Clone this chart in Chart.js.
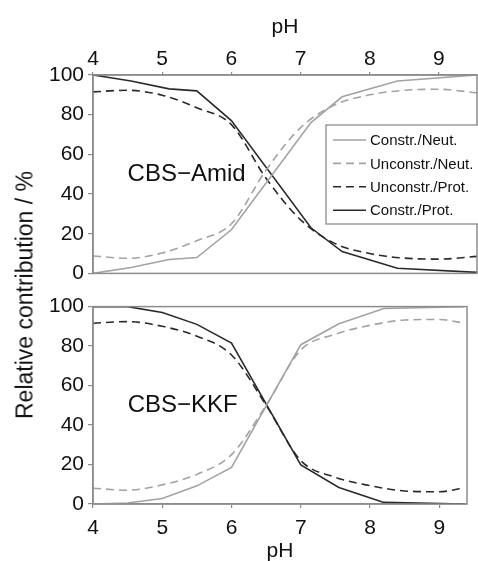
<!DOCTYPE html>
<html>
<head>
<meta charset="utf-8">
<script src="https://cdn.jsdelivr.net/npm/chart.js@4.4.1/dist/chart.umd.min.js"></script>
<style>
  html, body { margin: 0; padding: 0; background: #fff; overflow: hidden; }
  #wrap { position: relative; width: 478px; height: 561px; overflow: hidden; }
  #top { position: absolute; left: 0; top: 0; }
  #bottom { position: absolute; left: 0; top: 290px; }
  #ytitle {
    position: absolute; left: 25px; top: 295px;
    transform: translate(-50%, -50%) rotate(-90deg);
    font: 23px "Liberation Sans", Arial, sans-serif;
    white-space: nowrap; color: #111;
  }
</style>
</head>
<body>
<div id="wrap">
  <canvas id="top" width="478" height="290"></canvas>
  <canvas id="bottom" width="478" height="285"></canvas>
  <div id="ytitle">Relative contribution / %</div>
</div>
<script>
// axis ticks
const phTicks = [4, 5, 6, 7, 8, 9];
const yTicks = [0, 20, 40, 60, 80, 100];
const seriesNames = ["Constr./Neut.", "Unconstr./Neut.", "Unconstr./Prot.", "Constr./Prot."];

// CBS-Amid (top panel)
const amidPhConstr = [4.0, 4.55, 5.1, 5.5, 6.0, 7.15, 7.6, 8.4, 9.55];
const amidConstrNeut = [0, 3, 7, 8, 22, 76, 89, 97, 100];
const amidConstrProt = [100, 97, 93, 92, 77, 23, 11, 2.6, 0.5];
const amidPhFit = [4.0, 4.5, 5.0, 5.5, 6.0, 6.5, 7.0, 7.5, 8.0, 8.5, 9.0, 9.55];
const amidUnconstrNeut = [8.8, 7.6, 10.3, 16.5, 25, 52, 73.5, 85, 90, 92.3, 92.8, 91];
const amidUnconstrProt = [91.5, 92.3, 89.8, 83.5, 75, 48, 27, 15, 10, 7.7, 7.2, 8.6];

// CBS-KKF (bottom panel)
const kkfPhConstr = [4.0, 4.5, 5.0, 5.5, 6.0, 7.0, 7.55, 8.2, 9.35];
const kkfConstrNeut = [0, 0.5, 2.8, 9.2, 18.5, 80.7, 91.3, 99, 100];
const kkfConstrProt = [100, 100, 97, 91, 81.5, 19.8, 8.4, 0.8, 0];
const kkfPhFit = [4.0, 4.5, 5.0, 5.5, 6.0, 6.5, 7.0, 7.5, 8.0, 8.5, 9.0, 9.35];
const kkfUnconstrNeut = [8, 7, 9.7, 15, 25, 50, 78, 86, 90.5, 93.2, 93.5, 91.6];
const kkfUnconstrProt = [91.6, 92.4, 90, 85, 75.5, 50, 22, 13.5, 9.3, 6.6, 6.2, 8.1];

const FONT = '"Liberation Sans", Arial, sans-serif';
const GRAY = '#a3a3a3';
const DARK = '#2a2a2a';
const AXIS = '#8c8c8c';
const styles = [
  { color: GRAY, dash: [] },
  { color: GRAY, dash: [8, 5] },
  { color: DARK, dash: [8, 5] },
  { color: DARK, dash: [] }
];

function pts(xs, ys) {
  return xs.map((x, i) => ({ x: x, y: ys[i] }));
}

function makeSets(phC, cN, cP, phF, uN, uP) {
  const data = [pts(phC, cN), pts(phF, uN), pts(phF, uP), pts(phC, cP)];
  return data.map((d, i) => ({
    label: seriesNames[i],
    data: d,
    borderColor: styles[i].color,
    borderDash: styles[i].dash,
    borderWidth: 1.6,
    pointRadius: 0,
    fill: false,
    tension: 0,
    cubicInterpolationMode: styles[i].dash.length ? 'monotone' : 'default'
  }));
}

// box round the plot area
const framePlugin = {
  id: 'frame',
  afterDatasetsDraw(chart) {
    const a = chart.chartArea, ctx = chart.ctx;
    ctx.save();
    ctx.strokeStyle = AXIS;
    ctx.lineWidth = 1.5;
    ctx.strokeRect(a.left, a.top, a.right - a.left, a.bottom - a.top);
    ctx.restore();
  }
};

// panel name + boxed legend
const notePlugin = {
  id: 'note',
  afterDraw(chart, args, opts) {
    const ctx = chart.ctx;
    const xs = chart.scales.x, ys = chart.scales.y;
    ctx.save();
    ctx.fillStyle = '#111';
    ctx.font = '24px ' + FONT;
    ctx.textAlign = 'left';
    ctx.textBaseline = 'middle';
    ctx.fillText(opts.name, xs.getPixelForValue(opts.nameX), ys.getPixelForValue(opts.nameY));

    const b = opts.box;
    ctx.fillStyle = '#fff';
    ctx.fillRect(b.x, b.y, b.w, b.h);
    ctx.strokeStyle = AXIS;
    ctx.lineWidth = 1.3;
    ctx.strokeRect(b.x, b.y, b.w, b.h);
    ctx.font = '15px ' + FONT;
    chart.data.datasets.forEach((ds, i) => {
      const y = b.y + 15 + i * 23.4;
      ctx.beginPath();
      ctx.setLineDash(ds.borderDash);
      ctx.strokeStyle = ds.borderColor;
      ctx.lineWidth = 1.6;
      ctx.moveTo(b.x + 7, y);
      ctx.lineTo(b.x + 40, y);
      ctx.stroke();
      ctx.setLineDash([]);
      ctx.fillStyle = '#111';
      ctx.fillText(ds.label, b.x + 44, y + 1);
    });
    ctx.restore();
  }
};

function makeChart(id, sets, cfg) {
  return new Chart(document.getElementById(id), {
    type: 'line',
    data: { datasets: sets },
    plugins: [framePlugin, notePlugin],
    options: {
      responsive: false,
      animation: false,
      devicePixelRatio: 1,
      layout: { padding: cfg.padding },
      plugins: {
        legend: { display: false },
        tooltip: { enabled: false },
        note: cfg.note
      },
      scales: {
        x: {
          type: 'linear',
          position: cfg.xPos,
          min: 4,
          max: cfg.xMax,
          afterBuildTicks: s => { s.ticks = phTicks.map(v => ({ value: v })); },
          afterFit: s => { s.height = cfg.xHeight; },
          grid: { display: true, drawOnChartArea: false, color: AXIS, tickLength: cfg.tickLen, lineWidth: 1.2 },
          border: { display: true, color: AXIS, width: 1.5 },
          ticks: { font: { size: 21, family: FONT }, color: '#111', padding: cfg.tickPad, maxRotation: 0 },
          title: { display: true, text: 'pH', font: { size: 21, family: FONT }, color: '#111', padding: cfg.titlePad }
        },
        y: {
          min: 0,
          max: 100,
          afterBuildTicks: s => { s.ticks = yTicks.map(v => ({ value: v })); },
          afterFit: s => { s.width = 93; },
          grid: { display: true, drawOnChartArea: false, color: AXIS, tickLength: 5, lineWidth: 1.2 },
          border: { display: true, color: AXIS, width: 1.5 },
          ticks: { font: { size: 21, family: FONT }, color: '#111', padding: 4 }
        }
      }
    }
  });
}

makeChart('top',
  makeSets(amidPhConstr, amidConstrNeut, amidConstrProt, amidPhFit, amidUnconstrNeut, amidUnconstrProt),
  {
    padding: { top: 0, right: 1, bottom: 13, left: 0 },
    xPos: 'top', xMax: 9.55, xHeight: 75, tickLen: 3, tickPad: 0,
    titlePad: { top: 15, bottom: 0 },
    note: { name: 'CBS\u2212Amid', nameX: 4.5, nameY: 50, box: { x: 326, y: 125, w: 160, h: 99 } }
  });

makeChart('bottom',
  makeSets(kkfPhConstr, kkfConstrNeut, kkfConstrProt, kkfPhFit, kkfUnconstrNeut, kkfUnconstrProt),
  {
    padding: { top: 14, right: 11, bottom: 11, left: 0 },
    xPos: 'bottom', xMax: 9.4, xHeight: 60, tickLen: 4, tickPad: 8,
    titlePad: { top: 0, bottom: 0 },
    note: { name: 'CBS\u2212KKF', nameX: 4.5, nameY: 50, box: { x: 323, y: 352, w: 150, h: 100 } }
  });
</script>
</body>
</html>
